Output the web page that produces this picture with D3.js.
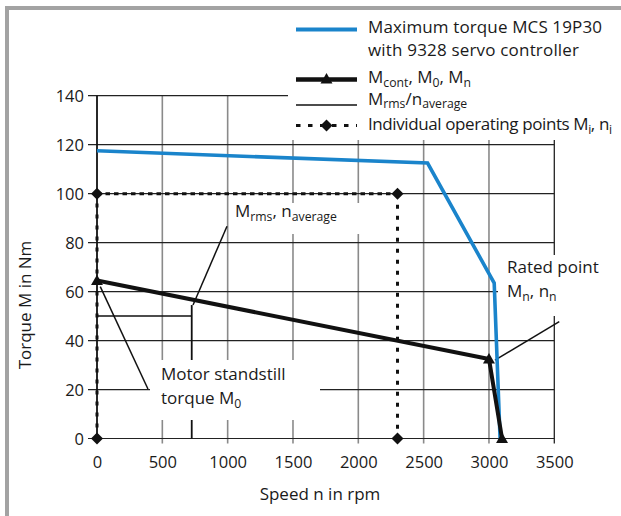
<!DOCTYPE html>
<html>
<head>
<meta charset="utf-8">
<script src="https://cdn.jsdelivr.net/npm/d3@7"></script>
<style>
  html, body { margin: 0; padding: 0; background: #fff; }
  svg { display: block; }
  text { font-family: "Open Sans", "Noto Sans", sans-serif; fill: #1a1a1a; }
</style>
</head>
<body>
<svg id="chart" width="621" height="516"></svg>
<script>
// ---- data ----
const speedTicks = [0, 500, 1000, 1500, 2000, 2500, 3000, 3500];
const torqueTicks = [0, 20, 40, 60, 80, 100, 120, 140];
const maxSpeed = [0, 2530, 3040, 3085];
const maxTorque = [117.5, 112.5, 63.5, 0];
const contSpeed = [0, 3000, 3100];
const contTorque = [64.5, 32.5, 0];
const opSpeed = [0, 0, 2300, 2300];
const opTorque = [0, 100, 100, 0];
const rmsHSpeed = [0, 725];
const rmsHTorque = [50, 50];
const rmsVSpeed = [725, 725];
const rmsVTorque = [0, 54.5];
const xTitle = "Speed n in rpm";
const yTitle = "Torque M in Nm";

// ---- setup ----
const svg = d3.select("#chart");
const x = d3.scaleLinear().domain([0, 3500]).range([97, 554.3]);
const y = d3.scaleLinear().domain([0, 140]).range([438.5, 95.7]);
const zip = (a, b) => a.map((v, i) => [v, b[i]]);
const line = d3.line().x(d => x(d[0])).y(d => y(d[1]));
const BLUE = "#1a84cb";

// frame
svg.append("line").attr("x1", 5).attr("x2", 621).attr("y1", 8).attr("y2", 8)
  .attr("stroke", "#a3a3a3").attr("stroke-width", 4);
svg.append("line").attr("x1", 7).attr("x2", 7).attr("y1", 6).attr("y2", 516)
  .attr("stroke", "#a3a3a3").attr("stroke-width", 4);

// vertical grid (gray) with downward ticks
svg.append("g").selectAll("line").data(speedTicks.filter(d => d > 0 && d < 3500)).join("line")
  .attr("x1", d => x(d)).attr("x2", d => x(d))
  .attr("y1", y(0) + 5).attr("y2", y(140))
  .attr("stroke", "#8a8a8a").attr("stroke-width", 1.6);
// right border of plot
svg.append("line").attr("x1", x(3500)).attr("x2", x(3500))
  .attr("y1", y(0) + 5).attr("y2", y(140))
  .attr("stroke", "#222").attr("stroke-width", 1.3);

// horizontal grid (black) with left ticks
svg.append("g").selectAll("line").data(torqueTicks).join("line")
  .attr("x1", x(0) - 9).attr("x2", x(3500))
  .attr("y1", d => y(d)).attr("y2", d => y(d))
  .attr("stroke", "#222").attr("stroke-width", 1.2);

// axes labels via d3 axes
const xAxis = d3.axisBottom(x).tickValues(speedTicks).tickFormat(d3.format("d")).tickSize(0).tickPadding(0);
const gx = svg.append("g").attr("transform", `translate(0,${y(0)})`).call(xAxis);
gx.select(".domain").remove();
gx.selectAll("text").attr("y", 29).attr("dy", null)
  .style("font-family", '"Open Sans", sans-serif').style("font-size", "16.5px").attr("fill", "#1a1a1a");

const yAxis = d3.axisLeft(y).tickValues(torqueTicks).tickFormat(d3.format("d")).tickSize(0).tickPadding(0);
const gy = svg.append("g").attr("transform", `translate(${x(0)},0)`).call(yAxis);
gy.select(".domain").remove();
gy.selectAll("text").attr("x", -13).attr("dy", "0.35em")
  .style("font-family", '"Open Sans", sans-serif').style("font-size", "16.5px").attr("fill", "#1a1a1a");

// left axis line
svg.append("line").attr("x1", x(0)).attr("x2", x(0)).attr("y1", y(0)).attr("y2", y(140))
  .attr("stroke", "#111").attr("stroke-width", 1.8);

// M_rms / n_average crosshair
svg.append("path").datum(zip(rmsHSpeed, rmsHTorque)).attr("d", line)
  .attr("fill", "none").attr("stroke", "#111").attr("stroke-width", 1.5);
svg.append("path").datum(zip(rmsVSpeed, rmsVTorque)).attr("d", line)
  .attr("fill", "none").attr("stroke", "#111").attr("stroke-width", 1.8);

// white label backgrounds
const boxes = [
  [150, 360, 170, 60],   // motor standstill
  [229, 203, 137, 31],   // Mrms label
  [498, 255, 110, 61],   // rated point
  [288, 11, 333, 129]    // legend
];
svg.append("g").selectAll("rect").data(boxes).join("rect")
  .attr("x", d => d[0]).attr("y", d => d[1]).attr("width", d => d[2]).attr("height", d => d[3])
  .attr("fill", "#fff");

// operating points dashed path (segment-wise dash)
const opPts = zip(opSpeed, opTorque);
for (let i = 0; i < opPts.length - 1; i++) {
  const a = opPts[i], b = opPts[i + 1];
  const vertical = a[0] === b[0];
  svg.append("path").datum([a, b]).attr("d", line)
    .attr("fill", "none").attr("stroke", "#111").attr("stroke-width", 3)
    .attr("stroke-dasharray", vertical ? "4,7" : "4.5,4");
}

// leader lines
const leaders = [
  [[390, 20.2], [25, 62]],
  [[995, 86.7], [735, 54.5]],
  [[3538, 47.7], [3046, 32]]
];
svg.append("g").selectAll("path").data(leaders).join("path").attr("d", line)
  .attr("fill", "none").attr("stroke", "#111").attr("stroke-width", 1.5);

// max torque (blue)
svg.append("path").datum(zip(maxSpeed, maxTorque)).attr("d", line)
  .attr("fill", "none").attr("stroke", BLUE).attr("stroke-width", 3.6)
  .attr("stroke-linejoin", "miter");

// continuous torque (black thick)
svg.append("path").datum(zip(contSpeed, contTorque)).attr("d", line)
  .attr("fill", "none").attr("stroke", "#111").attr("stroke-width", 4)
  .attr("stroke-linejoin", "round");

// markers
const tri = d3.symbol().type(d3.symbolTriangle).size(62);
svg.append("g").selectAll("path").data(zip(contSpeed, contTorque)).join("path")
  .attr("d", tri).attr("transform", d => `translate(${x(d[0])},${y(d[1]) + 1})`)
  .attr("fill", "#111");
const dia = d3.symbol().type(d3.symbolSquare).size(72);
svg.append("g").selectAll("path").data(opPts).join("path")
  .attr("d", dia).attr("transform", d => `translate(${x(d[0])},${y(d[1])}) rotate(45)`)
  .attr("fill", "#111");

// rich text helper
function rich(parent, px, py, parts, size, len, shiftK) {
  const t = parent.append("text").attr("x", px).attr("y", py).style("font-size", size + "px");
  if (len) t.attr("textLength", len).attr("lengthAdjust", "spacing");
  const shift = size * (shiftK || 0.26), sub = size * 0.72;
  let shifted = false;
  parts.forEach(p => {
    const isSub = typeof p !== "string";
    const ts = t.append("tspan").text(isSub ? p.sub : p);
    if (isSub) {
      ts.style("font-size", sub + "px");
      if (!shifted) { ts.attr("dy", shift); shifted = true; }
    } else if (shifted) { ts.attr("dy", -shift); shifted = false; }
  });
  return t;
}

// annotations
const FS = 17;
rich(svg, 235, 217, ["M", {sub: "rms"}, ", n", {sub: "average"}], FS);
rich(svg, 161, 380, ["Motor standstill"], FS);
rich(svg, 161, 404, ["torque M", {sub: "0"}], FS);
rich(svg, 507, 273, ["Rated point"], FS);
rich(svg, 507, 297, ["M", {sub: "n"}, ", n", {sub: "n"}], FS);

// axis titles
svg.append("text").attr("x", 320).attr("y", 500).attr("text-anchor", "middle")
  .style("font-size", "17px").text(xTitle);
svg.append("text").attr("transform", "translate(31,305) rotate(-90)").attr("text-anchor", "middle")
  .style("font-size", "17px").text(yTitle);

// legend
const lg = svg.append("g");
const lx1 = 296, lx2 = 357, ltx = 368;
lg.append("line").attr("x1", lx1).attr("x2", lx2).attr("y1", 29.5).attr("y2", 29.5)
  .attr("stroke", BLUE).attr("stroke-width", 4);
rich(lg, ltx, 33, ["Maximum torque MCS 19P30"], FS, 234);
rich(lg, ltx, 56, ["with 9328 servo controller"], FS, 211);
lg.append("line").attr("x1", lx1).attr("x2", lx2).attr("y1", 79.5).attr("y2", 79.5)
  .attr("stroke", "#111").attr("stroke-width", 4.5);
lg.append("path").attr("d", tri).attr("transform", `translate(${(lx1 + lx2) / 2},80)`).attr("fill", "#111");
rich(lg, ltx, 82.5, ["M", {sub: "cont"}, ", M", {sub: "0"}, ", M", {sub: "n"}], FS);
lg.append("line").attr("x1", lx1).attr("x2", lx2).attr("y1", 105).attr("y2", 105)
  .attr("stroke", "#111").attr("stroke-width", 1.6);
rich(lg, ltx, 104.5, ["M", {sub: "rms"}, "/n", {sub: "average"}], FS, null, 0.2);
lg.append("line").attr("x1", lx1).attr("x2", lx2).attr("y1", 125.5).attr("y2", 125.5)
  .attr("stroke", "#111").attr("stroke-width", 3).attr("stroke-dasharray", "4.5,7.5");
lg.append("path").attr("d", dia).attr("transform", `translate(${(lx1 + lx2) / 2},125.5) rotate(45)`).attr("fill", "#111");
rich(lg, ltx, 130, ["Individual operating points M", {sub: "i"}, ", n", {sub: "i"}], FS, 244);
</script>
</body>
</html>
